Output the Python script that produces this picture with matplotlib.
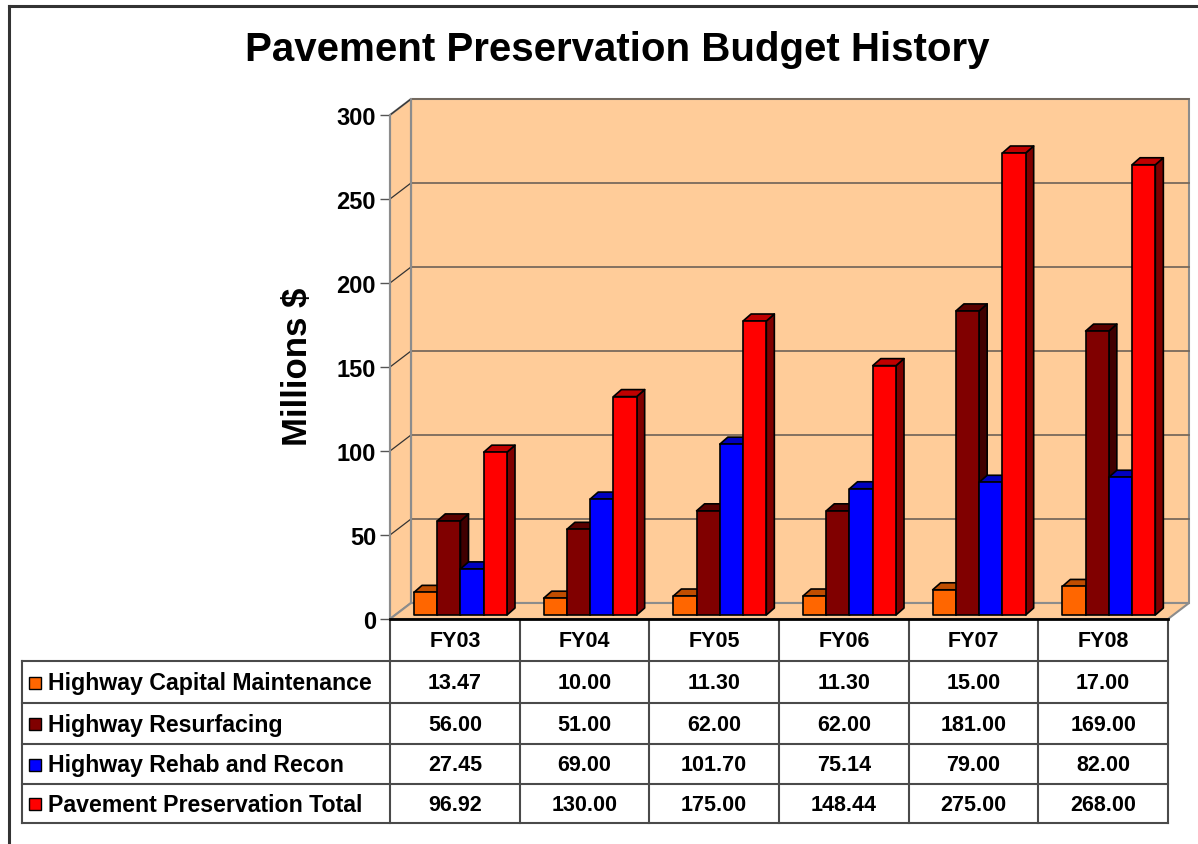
import numpy as np
import matplotlib.pyplot as plt
from matplotlib.patches import Polygon, Rectangle

plt.rcParams['font.family'] = ['Liberation Sans', 'DejaVu Sans']
plt.rcParams['font.weight'] = 'bold'

years = ['FY03', 'FY04', 'FY05', 'FY06', 'FY07', 'FY08']
series = ['Highway Capital Maintenance', 'Highway Resurfacing',
          'Highway Rehab and Recon', 'Pavement Preservation Total']
cap_maint = [13.47, 10.00, 11.30, 11.30, 15.00, 17.00]
resurfacing = [56.00, 51.00, 62.00, 62.00, 181.00, 169.00]
rehab = [27.45, 69.00, 101.70, 75.14, 79.00, 82.00]
total = [96.92, 130.00, 175.00, 148.44, 275.00, 268.00]
values = [cap_maint, resurfacing, rehab, total]

front_col = ['#FF6600', '#800000', '#0000FF', '#FF0000']
top_col = ['#C04D00', '#5A0000', '#0000C0', '#C00000']
side_col = ['#803300', '#400000', '#000080', '#800000']
wall = '#FFCC99'
grid = '#6E6257'

W, H = 1198, 845
fig = plt.figure(figsize=(W / 100, H / 100), dpi=100)

# plot area in pixels (front plane)
x0, x1, y0, y1 = 390, 1168, 620, 116
ax = fig.add_axes([x0 / W, 1 - y0 / H, (x1 - x0) / W, (y0 - y1) / H])
ax.set_xlim(0, len(years))
ax.set_ylim(0, 300)
ax.patch.set_visible(False)

pxx = (x1 - x0) / len(years)
pxy = (y0 - y1) / 300.0
# wall depth
wdx, wdy = 21 / pxx, 16 / pxy
# bar placement / depth
bdx0, bdy0 = 5 / pxx, 4 / pxy
bdx, bdy = 8 / pxx, 7 / pxy
bw = 23.25 / pxx
bstart = 19 / pxx

n = len(years)
# walls and floor
ax.add_patch(Polygon([(wdx, wdy), (n + wdx, wdy), (n + wdx, 300 + wdy), (wdx, 300 + wdy)],
                     closed=True, fc=wall, ec='#8C8C8C', lw=1.5, clip_on=False, zorder=1))
ax.add_patch(Polygon([(0, 0), (wdx, wdy), (wdx, 300 + wdy), (0, 300)],
                     closed=True, fc=wall, ec='#8C8C8C', lw=1.5, clip_on=False, zorder=1))
ax.add_patch(Polygon([(0, 0), (n, 0), (n + wdx, wdy), (wdx, wdy)],
                     closed=True, fc=wall, ec='#8C8C8C', lw=1.5, clip_on=False, zorder=1))
for g in range(50, 301, 50):
    ax.plot([wdx, n + wdx], [g + wdy, g + wdy], color=grid, lw=1.2, clip_on=False, zorder=2)
    ax.plot([0, wdx], [g, g + wdy], color='#333333', lw=0.9, clip_on=False, zorder=2)
ax.plot([wdx, wdx], [wdy, 300 + wdy], color='#8C8C8C', lw=1.5, clip_on=False, zorder=2)

# bars
for i in range(n):
    for k in range(len(series)):
        v = values[k][i]
        xl = i + bstart + k * bw + bdx0
        xr = xl + bw
        yb = bdy0
        yt = bdy0 + v
        kw = dict(closed=True, ec='black', lw=1.2, clip_on=False, zorder=3, joinstyle='round')
        ax.add_patch(Polygon([(xr, yb), (xr + bdx, yb + bdy), (xr + bdx, yt + bdy), (xr, yt)],
                             fc=side_col[k], **kw))
        ax.add_patch(Polygon([(xl, yt), (xr, yt), (xr + bdx, yt + bdy), (xl + bdx, yt + bdy)],
                             fc=top_col[k], **kw))
        ax.add_patch(Polygon([(xl, yb), (xr, yb), (xr, yt), (xl, yt)],
                             fc=front_col[k], **kw))

ax.plot([0, n], [0, 0], color='black', lw=2, clip_on=False, zorder=4)

for s in ['top', 'right', 'bottom']:
    ax.spines[s].set_visible(False)
ax.spines['left'].set_color('#8C8C8C')
ax.spines['left'].set_linewidth(1.5)
ax.spines['left'].set_zorder(2)
ax.set_xticks([])
ax.set_yticks(range(0, 301, 50))
ax.tick_params(axis='y', length=7, width=1, color='#555555', pad=3, labelsize=17)
for t in ax.get_yticklabels():
    t.set_fontweight('bold')

# table and frame drawn in pixel coordinates
tab = fig.add_axes([0, 0, 1, 1], zorder=-1)
tab.set_xlim(0, W)
tab.set_ylim(H, 0)
tab.axis('off')

cols = np.linspace(x0, x1, n + 1)
rows = [620, 662, 704, 745, 785, 824]
lc = '#4A4A4A'
for r in rows[1:]:
    tab.plot([22, x1], [r, r], color=lc, lw=1.5)
tab.plot([22, 22], [rows[1], rows[-1]], color=lc, lw=1.5)
for c in cols:
    tab.plot([c, c], [rows[0], rows[-1]], color=lc, lw=1.5)

for i, yr in enumerate(years):
    tab.text((cols[i] + cols[i + 1]) / 2, (rows[0] + rows[1]) / 2 + 1, yr,
             ha='center', va='center', fontsize=15.5, fontweight='bold')
for k, name in enumerate(series):
    ym = (rows[k + 1] + rows[k + 2]) / 2 + 1
    tab.add_patch(Rectangle((29, ym - 6.5), 12, 12, fc=front_col[k], ec='black', lw=1))
    tab.text(48, ym, name, ha='left', va='center', fontsize=16.7, fontweight='bold')
    for i in range(n):
        tab.text((cols[i] + cols[i + 1]) / 2, ym, '%.2f' % values[k][i],
                 ha='center', va='center', fontsize=15.5, fontweight='bold')

# outer frame (top and left visible)
tab.plot([9, 9], [H + 5, 7], color='#333333', lw=2.2)
tab.plot([9, W + 5], [7, 7], color='#333333', lw=2.2)

fig.text(617 / W, 1 - 50 / H, 'Pavement Preservation Budget History',
         ha='center', va='center', fontsize=29, fontweight='bold')
fig.text(298 / W, 1 - 367 / H, 'Millions $', ha='center', va='center',
         rotation=90, fontsize=25, fontweight='bold')

fig.savefig('out.png', dpi=100)
